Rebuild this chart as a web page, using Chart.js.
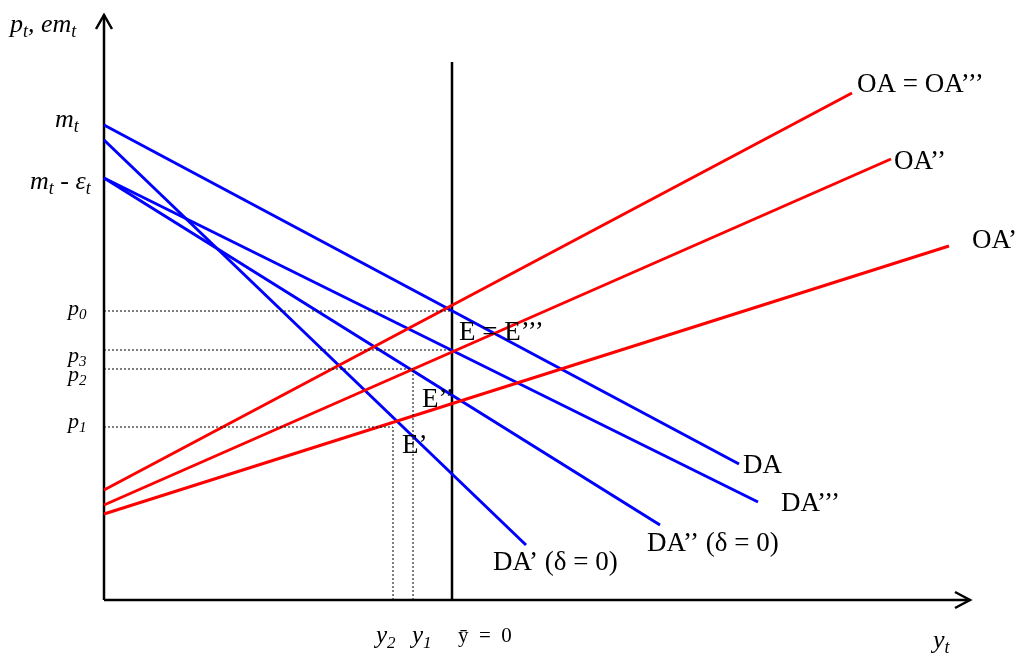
<!DOCTYPE html>
<html>
<head>
<meta charset="utf-8">
<script src="https://cdn.jsdelivr.net/npm/chart.js@4.4.1/dist/chart.umd.min.js"></script>
<style>
  html, body { margin: 0; padding: 0; background: #fff; }
  #wrap { width: 1023px; height: 655px; }
</style>
</head>
<body>
<div id="wrap"><canvas id="chart" width="1023" height="655"></canvas></div>
<script>
// output y (x axis) and price level p (y axis), origin at the axes corner
// each curve: [start, end] points
const daX = [0, 635],   daY = [475, 136];   // DA
const da3X = [0, 654],  da3Y = [422, 98];   // DA'''
const da2X = [0, 556],  da2Y = [422, 75];   // DA'' (delta = 0)
const da1X = [0, 422],  da1Y = [460, 55];   // DA' (delta = 0)
const oaX = [0, 748],   oaY = [110, 507];   // OA = OA'''
const oa2X = [0, 787],  oa2Y = [95, 441];   // OA''
const oa1X = [0, 845],  oa1Y = [86, 354];   // OA'

const yBar = 348;            // natural output, y = 0
const yBarTop = 538;
const outputLevels = [309, 289];          // y1, y2
const outputReach = [231, 173];           // dotted y1 up to p2, y2 up to p1
const priceLevels = [289, 250, 231, 173]; // p0, p3, p2, p1
const priceReach = [348, 348, 309, 289];  // where each dotted price line stops
const axisEnd = { x: 866, y: 585 };

const BLUE = '#0000ff', RED = '#ff0000';
const pts = (xs, ys) => xs.map((x, i) => ({ x: x, y: ys[i] }));

const datasets = [];
function addLine(data, color, width, dash) {
  datasets.push({
    data: data, showLine: true, borderColor: color, borderWidth: width,
    borderDash: dash || [], pointRadius: 0, fill: false, tension: 0
  });
}

// dotted guides
priceLevels.forEach((p, i) => addLine([{ x: 0, y: p }, { x: priceReach[i], y: p }], '#000', 1, [2, 2]));
outputLevels.forEach((v, i) => addLine([{ x: v, y: 0 }, { x: v, y: outputReach[i] }], '#000', 1, [2, 2]));

// curves
addLine(pts(oaX, oaY), RED, 3);
addLine(pts(oa2X, oa2Y), RED, 3);
addLine(pts(oa1X, oa1Y), RED, 3);
addLine(pts(daX, daY), BLUE, 3);
addLine(pts(da3X, da3Y), BLUE, 3);
addLine(pts(da2X, da2Y), BLUE, 3);
addLine(pts(da1X, da1Y), BLUE, 3);

// long-run vertical and axes
addLine([{ x: yBar, y: 0 }, { x: yBar, y: yBarTop }], '#000', 2.5);
addLine([{ x: 0, y: 0 }, { x: axisEnd.x, y: 0 }], '#000', 2.5);
addLine([{ x: 0, y: 0 }, { x: 0, y: axisEnd.y }], '#000', 2.5);

// text: runs of [text, style]  i = italic, s = italic subscript, r = roman
const SERIF = '"Liberation Serif", "DejaVu Serif", serif';
const labels = [
  { at: [-94, 568], size: 26, runs: [['p', 'i'], ['t', 's'], [', em', 'i'], ['t', 's']] },
  { at: [-49, 473], size: 26, runs: [['m', 'i'], ['t', 's']] },
  { at: [-74, 411], size: 26, runs: [['m', 'i'], ['t', 's'], [' - ', 'r'], ['ε', 'i'], ['t', 's']] },
  { at: [-36, 285], size: 22, runs: [['p', 'i'], ['0', 's']] },
  { at: [-36, 238], size: 22, runs: [['p', 'i'], ['3', 's']] },
  { at: [-36, 219], size: 22, runs: [['p', 'i'], ['2', 's']] },
  { at: [-36, 172], size: 22, runs: [['p', 'i'], ['1', 's']] },
  { at: [753, 508], size: 27, runs: [['OA = OA’’’', 'r']] },
  { at: [790, 431], size: 27, runs: [['OA’’', 'r']] },
  { at: [868, 352], size: 27, runs: [['OA’', 'r']] },
  { at: [355, 260], size: 27, runs: [['E = E’’’', 'r']] },
  { at: [318, 193], size: 27, runs: [['E’’', 'r']] },
  { at: [298, 147], size: 27, runs: [['E’', 'r']] },
  { at: [639, 127], size: 27, runs: [['DA', 'r']] },
  { at: [677, 89], size: 27, runs: [['DA’’’', 'r']] },
  { at: [543, 49], size: 27, runs: [['DA’’ (δ = 0)', 'r']] },
  { at: [389, 30], size: 27, runs: [['DA’ (δ = 0)', 'r']] },
  { at: [272, -43], size: 25, runs: [['y', 'i'], ['2', 's']] },
  { at: [308, -43], size: 25, runs: [['y', 'i'], ['1', 's']] },
  { at: [354, -42], size: 21, runs: [['y\u0304', 'r'], ['  =  0', 'r']] },
  { at: [829, -48], size: 26, runs: [['y', 'i'], ['t', 's']] }
];

const overlay = {
  id: 'overlay',
  afterDatasetsDraw(chart) {
    const { ctx, scales: { x, y } } = chart;
    ctx.save();
    ctx.strokeStyle = '#000';
    ctx.lineWidth = 2.5;
    // arrow heads
    const tx = x.getPixelForValue(0), ty = y.getPixelForValue(axisEnd.y);
    ctx.beginPath();
    ctx.moveTo(tx - 8, ty + 14); ctx.lineTo(tx, ty); ctx.lineTo(tx + 8, ty + 14);
    ctx.stroke();
    const ax = x.getPixelForValue(axisEnd.x), ay = y.getPixelForValue(0);
    ctx.beginPath();
    ctx.moveTo(ax - 15, ay - 8); ctx.lineTo(ax, ay); ctx.lineTo(ax - 15, ay + 8);
    ctx.stroke();

    ctx.fillStyle = '#000';
    ctx.textBaseline = 'alphabetic';
    labels.forEach(l => {
      let px = x.getPixelForValue(l.at[0]);
      const py = y.getPixelForValue(l.at[1]);
      l.runs.forEach(([t, s]) => {
        const sub = s === 's';
        const size = sub ? Math.round(l.size * 0.68) : l.size;
        ctx.font = (s === 'r' ? '' : 'italic ') + size + 'px ' + SERIF;
        ctx.fillText(t, px, py + (sub ? l.size * 0.2 : 0));
        px += ctx.measureText(t).width;
      });
    });
    ctx.restore();
  }
};

new Chart(document.getElementById('chart'), {
  type: 'scatter',
  data: { datasets: datasets },
  options: {
    responsive: false,
    animation: false,
    layout: { padding: 0 },
    plugins: { legend: { display: false }, tooltip: { enabled: false } },
    scales: {
      x: { type: 'linear', min: -104, max: 919, display: false },
      y: { type: 'linear', min: -55, max: 600, display: false }
    }
  },
  plugins: [overlay]
});
</script>
</body>
</html>
